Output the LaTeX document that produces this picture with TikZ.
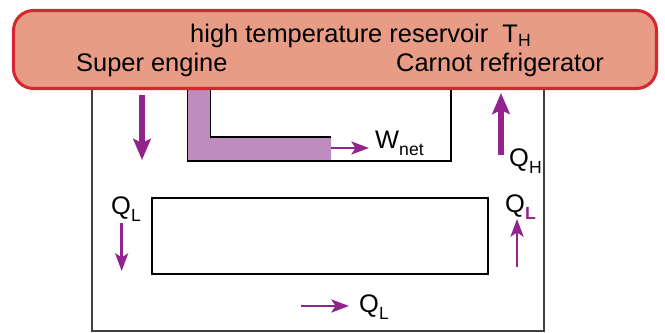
\documentclass[tikz,border=0pt]{standalone}
\usepackage{fontspec}
\setmainfont{Liberation Sans}
\usetikzlibrary{arrows.meta}
\definecolor{resfill}{RGB}{232,156,134}
\definecolor{resline}{RGB}{214,38,48}
\definecolor{flow}{RGB}{146,34,140}
\definecolor{workfill}{RGB}{190,140,190}
\newcommand{\lowidx}[1]{\raisebox{-0.19cm}{\fontsize{15}{15}\selectfont #1}}
\tikzset{
    box/.style={draw=black, line width=1.7pt},
    frame/.style={draw=black!75, line width=1.1pt},
    flowarrow/.style={draw=flow, line width=2.5pt, -{Stealth[length=15pt,width=11pt,inset=3.5pt]}},
    bigflow/.style={draw=flow, line width=4.8pt, -{Stealth[length=18pt,width=15pt,inset=3.5pt]}},
    lbl/.style={anchor=base west, inner sep=0pt}
}

\begin{document}
\begin{tikzpicture}[font=\fontsize{21.7}{26}\selectfont]
    \useasboundingbox (0,0) rectangle (19.95,9.99);
    % outer frame
    \draw[frame] (2.76,7.5) -- (2.76,0.06) -- (16.32,0.06) -- (16.32,7.5);
    % work path of the super engine
    \fill[workfill] (5.625,7.4) -- (6.315,7.4) -- (6.315,5.88) -- (9.93,5.88)
        -- (9.93,5.16) -- (5.625,5.16) -- cycle;
    \draw[box] (5.625,7.4) -- (5.625,5.16) -- (13.53,5.16) -- (13.53,7.4);
    \draw[box] (6.315,7.4) -- (6.315,5.88) -- (9.93,5.88);
    % low temperature side
    \draw[box] (4.56,1.77) rectangle (14.64,4.05);
    % reservoir
    \node[draw=resline, fill=resfill, line width=2.6pt, rounded corners=0.6cm,
        minimum width=19.29cm, minimum height=2.34cm, inner sep=0pt] (hot) at (10.05,8.505) {};
    \node[lbl] (title) at (5.70,8.72) {high temperature reservoir\ \ T\raisebox{-0.14cm}{\fontsize{15}{15}\selectfont H}};
    \node[lbl] (engine) at (2.28,7.84) {Super engine};
    \node[lbl] (fridge) at (11.88,7.84) {Carnot refrigerator};

    % labels
    \node[lbl] (wnet) at (11.25,5.52) {W\lowidx{net}};
    \node[lbl] (qh) at (15.27,4.98) {Q\lowidx{H}};
    \node[lbl] (qlleft) at (3.33,3.54) {Q\lowidx{L}};
    \node[lbl] (qlright) at (15.15,3.60) {Q\lowidx{\textcolor{flow}{\textbf{L}}}};
    \node[lbl] (qlbottom) at (10.77,0.60) {Q\lowidx{L}};

    % heat and work flows
    \coordinate (in1) at (4.26,7.14);  \coordinate (out1) at (4.26,5.19);
    \coordinate (in2) at (15.03,5.34); \coordinate (out2) at (15.03,7.20);
    \coordinate (in3) at (9.93,5.55);  \coordinate (out3) at (11.07,5.55);
    \coordinate (in4) at (3.65,3.30);  \coordinate (out4) at (3.65,1.86);
    \coordinate (in5) at (15.51,1.98); \coordinate (out5) at (15.51,3.42);
    \coordinate (in6) at (9.03,0.81);  \coordinate (out6) at (10.47,0.81);
    \draw[bigflow] (in1) -- (out1);
    \draw[bigflow] (in2) -- (out2);
    \draw[flowarrow] (in3) -- (out3);
    \draw[flowarrow] (in4) -- (out4);
    \draw[flowarrow] (in5) -- (out5);
    \draw[flowarrow] (in6) -- (out6);
\end{tikzpicture}
\end{document}
